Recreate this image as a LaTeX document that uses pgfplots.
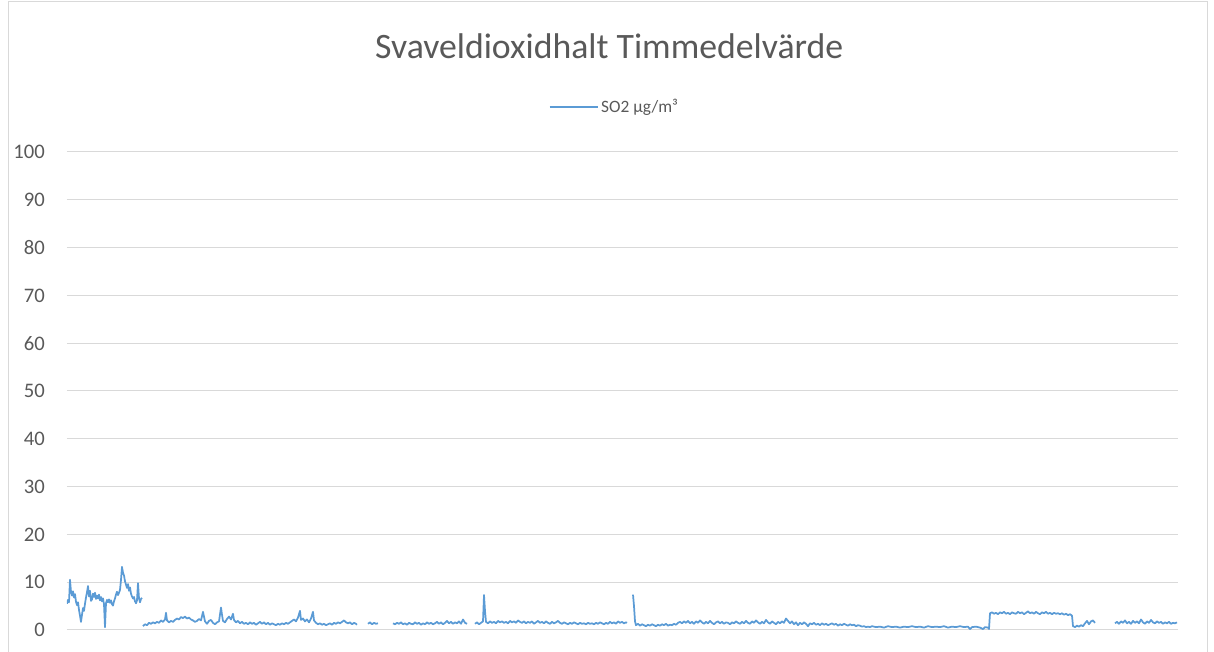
\documentclass[border=0pt]{standalone}
\usepackage{fontspec}
\setmainfont{Carlito}
\usepackage{pgfplots}
\pgfplotsset{compat=1.18}
\definecolor{so2}{HTML}{5B9BD5}
\definecolor{gridc}{HTML}{D9D9D9}
\definecolor{txt}{HTML}{595959}
\begin{document}
\begin{tikzpicture}[x=1pt,y=1pt]
\useasboundingbox (0,0) rectangle (910.5,489);
\draw[gridc, line width=0.75pt] (6,-5) -- (6,487.5) -- (905.5,487.5) -- (905.5,-5);
\begin{axis}[
  at={(50.25pt,16.5pt)}, anchor=south west,
  scale only axis, width=833.25pt, height=358.5pt,
  xmin=67, xmax=1178, ymin=0, ymax=100,
  xtick=\empty,
  ytick={0,10,...,100},
  ymajorgrids, major grid style={gridc, line width=0.75pt},
  axis line style={draw=none},
  major tick length=0pt,
  /pgf/number format/assume math mode=true,
  yticklabel style={font=\fontsize{15.5}{18}\selectfont, text=txt, anchor=east, inner sep=0pt, xshift=-16.5pt},
  title={Svaveldioxidhalt Timmedelvärde},
  title style={font=\fontsize{26.8}{30}\selectfont, text=txt, at={(0.488,1)}, anchor=center, yshift=73.5pt},
  legend style={draw=none, fill=none, font=\fontsize{13}{15}\selectfont, text=txt, at={(0.493,1)}, anchor=center, yshift=34pt},
  legend image code/.code={\draw[#1] (0pt,0pt) -- (36pt,0pt);},
  unbounded coords=jump,
]
\addplot[so2, line width=1.3pt, line join=round] coordinates {
(67,5.5)(68,6.3)(69,5.8)(70,10.5)(71,8.0)(72,7.2)(73,8.1)(74,6.8)(75,7.5)(76,5.9)(77,5.2)(78,5.8)(79,4.2)(80,3.0)(81,1.7)(82,3.2)(83,4.6)(84,4.0)(85,5.5)(86,6.8)(87,7.9)(88,9.2)(89,7.0)(90,8.2)(91,6.1)(92,6.4)(93,7.6)(94,6.9)(95,7.8)(96,6.5)(97,7.2)(98,6.6)(99,7.4)(100,6.2)(101,6.9)(102,6.0)(103,6.6)(104,5.4)(105,0.6)(106,5.6)(107,6.3)(108,5.8)(109,6.4)(110,5.7)(111,6.2)(112,5.4)(113,5.1)(114,6.0)(115,6.6)(116,7.4)(117,8.0)(118,7.3)(119,7.8)(120,8.4)(121,10.5)(122,13.2)(123,12.0)(124,11.4)(125,10.2)(126,9.5)(127,8.8)(128,9.6)(129,8.2)(130,8.9)(131,7.6)(132,7.0)(133,6.6)(134,6.9)(135,6.0)(136,5.6)(137,6.2)(138,9.8)(139,6.6)(140,5.8)(141,6.5)(142,6.7)
(142.5,nan)
(143,0.8)(145,1.2)(147,1.0)(149,1.5)(151,1.3)(153,1.6)(155,1.4)(157,1.7)(159,1.5)(161,2.0)(163,1.7)(165,2.2)(166,3.6)(167,2.0)(169,1.6)(171,1.9)(173,1.7)(175,2.1)(177,2.4)(179,2.2)(181,2.7)(183,2.5)(185,2.8)(187,2.4)(189,2.6)(191,2.2)(193,2.0)(195,1.7)(197,1.9)(199,2.3)(201,2.0)(203,3.8)(205,1.8)(207,1.3)(209,1.9)(211,2.1)(213,1.5)(215,1.2)(217,1.6)(219,1.8)(221,4.7)(222,3.2)(223,1.9)(225,1.6)(227,2.3)(229,2.8)(231,2.2)(233,3.4)(234,2.1)(236,1.6)(238,1.9)(240,1.4)(242,1.7)(244,1.3)(246,1.5)(248,1.2)(250,1.6)(252,1.3)(254,1.5)(256,1.1)(258,1.4)(260,1.7)(262,1.3)(264,1.6)(266,1.2)(268,1.5)(270,1.1)(272,1.4)(274,1.2)(276,1.0)(278,1.3)(280,1.1)(282,1.4)(284,1.2)(286,1.5)(288,1.3)(290,1.6)(292,1.9)(294,2.2)(296,1.8)(298,2.6)(300,4.0)(301,2.1)(303,2.4)(305,1.8)(307,2.2)(309,1.6)(311,2.4)(313,3.8)(314,2.0)(316,1.5)(318,1.2)(320,1.4)(322,1.1)(324,1.3)(326,1.0)(328,1.2)(330,1.4)(332,1.1)(334,1.5)(336,1.3)(338,1.6)(340,1.4)(342,1.7)(344,2.0)(346,1.6)(348,1.4)(350,1.6)(352,1.2)(354,1.5)(356,1.3)(357,1.1)
(360,nan)
(368,1.3)(370,1.6)(372,1.2)(374,1.5)(376,1.3)(378,1.4)
(385,nan)
(393,1.4)(395,1.2)(397,1.5)(399,1.3)(401,1.6)(403,1.2)(405,1.4)(407,1.1)(409,1.5)(411,1.3)(413,1.2)(415,1.6)(417,1.3)(419,1.5)(421,1.1)(423,1.4)(425,1.2)(427,1.6)(429,1.3)(431,1.5)(433,1.2)(435,1.4)(437,1.7)(439,1.3)(441,1.6)(443,1.2)(445,1.5)(447,1.9)(449,1.4)(451,1.7)(453,1.3)(455,1.6)(457,1.4)(459,1.8)(461,1.3)(463,2.2)(465,1.5)(467,1.3)
(470,nan)
(475,1.3)(477,1.6)(479,1.2)(481,1.5)(483,1.8)(484,7.3)(485,4.0)(486,1.7)(488,1.4)(490,1.8)(492,1.5)(494,1.7)(496,1.4)(498,1.9)(500,1.6)(502,1.8)(504,1.5)(506,1.7)(508,1.4)(510,1.9)(512,1.6)(514,1.8)(516,1.5)(518,2.0)(520,1.7)(522,1.5)(524,1.8)(526,1.4)(528,1.7)(530,1.5)(532,1.8)(534,1.3)(536,1.6)(538,1.9)(540,1.5)(542,1.7)(544,1.4)(546,1.8)(548,1.5)(550,1.3)(552,1.7)(554,1.4)(556,1.6)(558,1.9)(560,1.5)(562,1.3)(564,1.6)(566,1.4)(568,1.2)(570,1.5)(572,1.3)(574,1.6)(576,1.4)(578,1.2)(580,1.5)(582,1.3)(584,1.4)(586,1.2)(588,1.5)(590,1.3)(592,1.4)(594,1.2)(596,1.5)(598,1.3)(600,1.6)(602,1.4)(604,1.2)(606,1.5)(608,1.3)(610,1.7)(612,1.4)(614,1.6)(616,1.3)(618,1.8)(620,1.5)(622,1.7)(624,1.4)(626,1.6)(627,1.5)
(630,nan)
(633,7.4)(634,5.0)(635,1.8)(636,1.0)(638,1.3)(640,0.9)(642,1.2)(644,1.0)(646,0.8)(648,1.1)(650,0.9)(652,1.2)(654,1.0)(656,0.8)(658,1.1)(660,0.9)(662,1.2)(664,1.0)(666,1.3)(668,0.9)(670,1.1)(672,1.0)(674,1.3)(676,1.1)(678,1.5)(680,1.7)(682,1.4)(684,1.8)(686,1.5)(688,1.9)(690,1.4)(692,1.7)(694,1.3)(696,1.8)(698,1.5)(700,2.0)(702,1.6)(704,1.3)(706,1.7)(708,1.4)(710,1.9)(712,1.5)(714,1.2)(716,1.6)(718,1.8)(720,1.4)(722,1.7)(724,1.3)(726,1.6)(728,1.5)(730,1.2)(732,1.6)(734,1.4)(736,1.8)(738,1.5)(740,1.3)(742,1.7)(744,1.4)(746,1.9)(748,1.5)(750,1.3)(752,1.8)(754,1.5)(756,2.0)(758,1.6)(760,1.3)(762,1.7)(764,1.4)(766,2.1)(768,1.6)(770,1.3)(772,1.8)(774,1.5)(776,1.2)(778,1.7)(780,1.4)(782,1.8)(784,1.5)(786,2.4)(788,1.9)(790,1.4)(792,1.8)(794,1.2)(796,1.6)(798,1.0)(800,1.5)(802,1.2)(804,1.6)(806,1.3)(808,0.8)(810,1.4)(812,1.2)(814,1.5)(816,1.1)(818,1.3)(820,1.0)(822,1.4)(824,1.1)(826,1.3)(828,1.0)(830,1.2)(832,1.4)(834,1.1)(836,1.3)(838,0.9)(840,1.2)(842,1.0)(844,1.3)(846,1.1)(848,0.9)(850,1.2)(852,1.0)(854,1.1)(856,0.8)(858,1.0)(860,0.9)(862,0.7)(864,0.8)(866,0.6)(868,0.7)(870,0.6)(872,0.8)(876,0.6)(880,0.7)(884,0.5)(888,0.8)(892,0.6)(896,0.7)(900,0.5)(904,0.7)(908,0.6)(912,0.8)(916,0.6)(920,0.7)(924,0.5)(928,0.8)(932,0.6)(936,0.7)(940,0.6)(944,0.8)(948,0.5)(952,0.7)(956,0.6)(960,0.8)(964,0.6)(968,0.7)(970,0.2)(972,0.6)(976,0.7)(980,0.5)(983,0.2)(985,0.6)(988,0.5)(989,0.2)(990,3.5)(992,3.7)(994,3.4)(996,3.6)(998,3.3)(1000,3.7)(1002,3.5)(1004,3.8)(1006,3.4)(1008,3.6)(1010,3.3)(1012,3.7)(1014,3.5)(1016,3.4)(1018,3.8)(1020,3.5)(1022,3.7)(1024,3.3)(1026,3.6)(1028,3.9)(1030,3.5)(1032,3.7)(1034,3.4)(1036,3.8)(1038,3.5)(1040,3.3)(1042,3.7)(1044,3.5)(1046,3.8)(1048,3.4)(1050,3.6)(1052,3.3)(1054,3.6)(1056,3.4)(1058,3.5)(1060,3.3)(1062,3.5)(1064,3.2)(1066,3.4)(1068,3.1)(1070,3.3)(1072,3.0)(1073,0.8)(1075,0.6)(1077,0.9)(1079,0.7)(1081,1.0)(1083,0.8)(1085,1.4)(1087,1.9)(1089,1.2)(1091,1.8)(1093,2.0)(1095,1.5)
(1100,nan)
(1115,1.4)(1117,1.7)(1119,1.3)(1121,1.8)(1123,1.5)(1125,2.0)(1127,1.4)(1129,1.7)(1131,1.3)(1133,1.9)(1135,1.5)(1137,1.8)(1139,1.4)(1141,2.2)(1143,1.6)(1145,1.3)(1147,1.8)(1149,1.5)(1151,2.1)(1153,1.6)(1155,1.4)(1157,1.8)(1159,1.5)(1161,1.7)(1163,1.3)(1165,1.6)(1167,1.4)(1169,1.7)(1171,1.3)(1173,1.5)(1175,1.4)(1177,1.6)
};
\addlegendentry{SO2 µg/m³}
\end{axis}
\end{tikzpicture}
\end{document}
